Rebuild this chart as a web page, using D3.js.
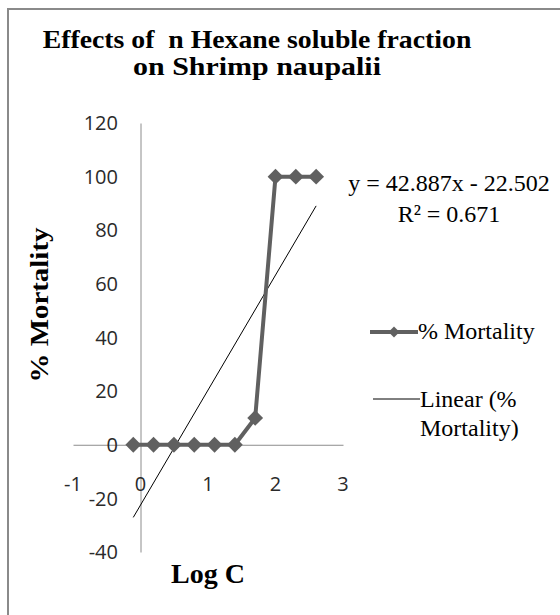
<!DOCTYPE html>
<html>
<head>
<meta charset="utf-8">
<script src="https://cdn.jsdelivr.net/npm/d3@7"></script>
<style>
  html, body { margin: 0; padding: 0; background: #fff; }
  svg { display: block; }
</style>
</head>
<body>
<svg id="chart" width="560" height="615"></svg>
<script>
// ---- data ----
const logC = [-0.107, 0.193, 0.495, 0.796, 1.097, 1.398, 1.699, 2.0, 2.301, 2.602];
const mortality = [0, 0, 0, 0, 0, 0, 10, 100, 100, 100];
const xTicks = [-1, 0, 1, 2, 3];
const yTicks = [-40, -20, 0, 20, 40, 60, 80, 100, 120];
const trendSlope = 42.887;
const trendIntercept = -22.502;
const titleLines = ["Effects of  n Hexane soluble fraction", "on Shrimp naupalii"];
const equationLines = ["y = 42.887x - 22.502", "R² = 0.671"];
const legendLabels = ["% Mortality", ["Linear (%", "Mortality)"]];

// ---- drawing ----
const svg = d3.select("#chart");
const serif = "'Liberation Serif', 'Times New Roman', serif";
const sans = "'Open Sans', 'Liberation Sans', sans-serif";
const seriesColor = "#606060";
const axisColor = "#8c8c8c";

// outer chart border
svg.append("rect").attr("x", 8).attr("y", 9).attr("width", 600).attr("height", 650)
  .attr("fill", "none").attr("stroke", "#8a8a8a").attr("stroke-width", 2);

const x = d3.scaleLinear().domain([-1, 3]).range([73, 343]);
const y = d3.scaleLinear().domain([-40, 120]).range([552, 123]);

// stretch a text horizontally to a target width (wide bold serif look)
function stretch(sel, cx, cy, target, rotate) {
  const w = sel.node().getComputedTextLength();
  const s = target / w;
  sel.attr("x", 0).attr("y", 0).attr("text-anchor", "middle")
    .attr("transform", `translate(${cx},${cy})${rotate ? " rotate(-90)" : ""} scale(${s},1)`);
}

// title
const titleWidths = [429, 248];
titleLines.forEach((t, i) => {
  const el = svg.append("text")
    .attr("font-family", serif).attr("font-weight", "bold").attr("font-size", 25)
    .attr("style", "white-space: pre").text(t);
  stretch(el, 257, 48 + i * 27, titleWidths[i], false);
});

// axes lines crossing at 0 (no ticks)
const xAxis = d3.axisBottom(x).tickValues(xTicks).tickSize(0).tickFormat("");
const yAxis = d3.axisLeft(y).tickValues(yTicks).tickSize(0).tickFormat("");
const gx = svg.append("g").attr("transform", `translate(0,${y(0)})`).call(xAxis);
const gy = svg.append("g").attr("transform", `translate(${x(0)},0)`).call(yAxis);
[gx, gy].forEach(g => g.select(".domain").attr("stroke", axisColor).attr("stroke-width", 1));

// tick labels
svg.append("g").selectAll("text").data(yTicks).join("text")
  .attr("x", 118).attr("y", d => y(d)).attr("dy", "0.36em")
  .attr("text-anchor", "end").attr("font-family", sans).attr("font-size", 20)
  .attr("fill", "#2a2a2a").text(d => d);
svg.append("g").selectAll("text").data(xTicks).join("text")
  .attr("x", d => x(d)).attr("y", 484).attr("dy", "0.36em")
  .attr("text-anchor", "middle").attr("font-family", sans).attr("font-size", 20)
  .attr("fill", "#2a2a2a").text(d => d);

// axis titles
const yTitle = svg.append("text").attr("dy", "0.35em")
  .attr("font-family", serif).attr("font-weight", "bold").attr("font-size", 25)
  .text("% Mortality");
stretch(yTitle, 39, 305, 155, true);
svg.append("text").attr("x", x(1)).attr("y", 583).attr("text-anchor", "middle")
  .attr("font-family", serif).attr("font-weight", "bold").attr("font-size", 28)
  .text("Log C");

// trendline
const xr = d3.extent(logC);
const trendPts = xr.map(v => [v, trendSlope * v + trendIntercept]);
svg.append("path").datum(trendPts)
  .attr("d", d3.line().x(d => x(d[0])).y(d => y(d[1])))
  .attr("fill", "none").attr("stroke", "#000").attr("stroke-width", 1);

// series
const pts = logC.map((v, i) => [v, mortality[i]]);
svg.append("path").datum(pts)
  .attr("d", d3.line().x(d => x(d[0])).y(d => y(d[1])))
  .attr("fill", "none").attr("stroke", seriesColor).attr("stroke-width", 4)
  .attr("stroke-linejoin", "round");
svg.append("g").selectAll("path").data(pts).join("path")
  .attr("transform", d => `translate(${x(d[0])},${y(d[1])}) rotate(45)`)
  .attr("d", d3.symbol().type(d3.symbolSquare).size(125))
  .attr("fill", seriesColor);

// equation
svg.append("text").attr("text-anchor", "middle")
  .attr("font-family", serif).attr("font-size", 24)
  .selectAll("tspan").data(equationLines).join("tspan")
  .attr("x", 449).attr("y", (d, i) => 191 + i * 31).text(d => d);

// legend
const lg = svg.append("g");
lg.append("line").attr("x1", 370).attr("x2", 418).attr("y1", 332).attr("y2", 332)
  .attr("stroke", seriesColor).attr("stroke-width", 4);
lg.append("path").attr("transform", "translate(394,332) rotate(45)")
  .attr("d", d3.symbol().type(d3.symbolSquare).size(60)).attr("fill", seriesColor);
lg.append("text").attr("x", 418).attr("y", 339)
  .attr("font-family", serif).attr("font-size", 24).text(legendLabels[0]);
lg.append("line").attr("x1", 373).attr("x2", 420).attr("y1", 399).attr("y2", 399)
  .attr("stroke", "#000").attr("stroke-width", 1);
lg.append("text").attr("font-family", serif).attr("font-size", 24)
  .selectAll("tspan").data(legendLabels[1]).join("tspan")
  .attr("x", 420).attr("y", (d, i) => 407 + i * 29).text(d => d);
</script>
</body>
</html>
